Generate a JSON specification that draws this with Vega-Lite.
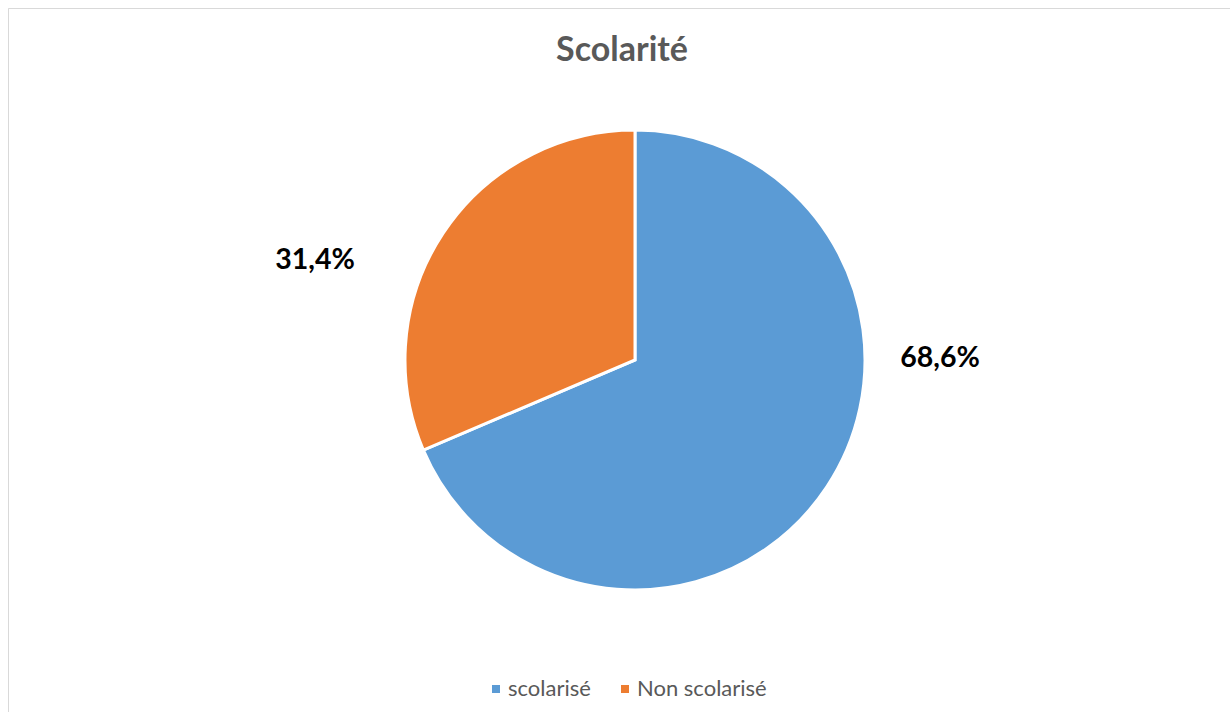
{
  "$schema": "https://vega.github.io/schema/vega-lite/v6.json",
  "width": 1254,
  "height": 704,
  "padding": {"left": 8, "top": 8, "right": 0, "bottom": 0},
  "background": "white",
  "view": {"stroke": "#d9d9d9", "strokeWidth": 1, "strokeDash": [1254, 1958, 704]},
  "title": {
    "text": "Scolarité",
    "font": "Lato",
    "fontSize": 34,
    "fontWeight": "bold",
    "color": "#595959",
    "anchor": "middle",
    "frame": "group",
    "orient": "top",
    "baseline": "alphabetic",
    "offset": -54,
    "dx": -13,
    "dy": 33
  },
  "data": {
    "values": [
      {"statut": "scolarisé", "pct": 68.6, "label": "68,6%"},
      {"statut": "Non scolarisé", "pct": 31.4, "label": "31,4%"}
    ]
  },
  "layer": [
    {
      "mark": {"type": "arc", "outerRadius": 230, "stroke": "white", "strokeWidth": 3},
      "encoding": {
        "theta": {"field": "pct", "type": "quantitative", "stack": true},
        "order": {"field": "pct", "type": "quantitative", "sort": "descending"},
        "color": {
          "field": "statut",
          "type": "nominal",
          "scale": {"domain": ["scolarisé", "Non scolarisé"], "range": ["#5B9BD5", "#ED7D31"]},
          "legend": {
            "title": null,
            "orient": "none",
            "legendX": 477,
            "legendY": 670,
            "direction": "horizontal",
            "symbolType": "square",
            "symbolSize": 64,
            "symbolStrokeWidth": 0,
            "labelFont": "Lato",
            "labelFontSize": 22,
            "labelColor": "#595959",
            "labelOffset": 1,
            "columnPadding": 23,
            "padding": 0
          }
        }
      }
    },
    {
      "transform": [{"filter": "datum.statut == 'scolarisé'"}],
      "mark": {"type": "text", "dx": 305, "dy": -2, "align": "center", "baseline": "middle", "font": "Lato", "fontSize": 28.5, "fontWeight": "bold", "color": "#000000"},
      "encoding": {"text": {"field": "label", "type": "nominal"}}
    },
    {
      "transform": [{"filter": "datum.statut == 'Non scolarisé'"}],
      "mark": {"type": "text", "dx": -320, "dy": -100, "align": "center", "baseline": "middle", "font": "Lato", "fontSize": 28.5, "fontWeight": "bold", "color": "#000000"},
      "encoding": {"text": {"field": "label", "type": "nominal"}}
    }
  ]
}
